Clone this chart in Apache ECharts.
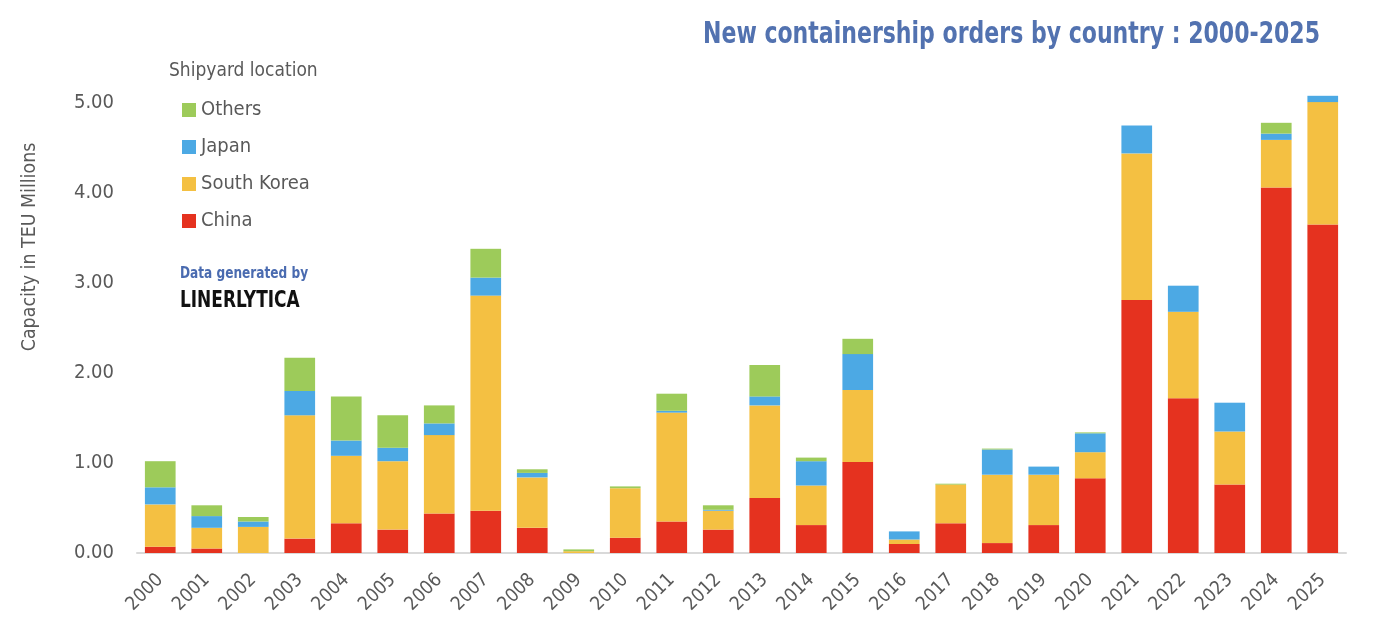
<!DOCTYPE html>
<html>
<head>
<meta charset="utf-8">
<script src="https://cdn.jsdelivr.net/npm/echarts@6/dist/echarts.min.js"></script>
<style>
html,body{margin:0;padding:0;background:#fff;}
#chart{width:1374px;height:642px;}
</style>
</head>
<body>
<div id="chart"></div>
<script>
const years = ['2000','2001','2002','2003','2004','2005','2006','2007','2008','2009','2010','2011','2012','2013','2014','2015','2016','2017','2018','2019','2020','2021','2022','2023','2024','2025'];
const china      = [0.07,0.05,0.00,0.16,0.33,0.26,0.44,0.47,0.28,0.00,0.17,0.35,0.26,0.61,0.31,1.01,0.10,0.33,0.11,0.31,0.83,2.81,1.72,0.76,4.06,3.65];
const southKorea = [0.47,0.23,0.29,1.37,0.75,0.76,0.87,2.39,0.56,0.02,0.55,1.21,0.21,1.03,0.44,0.80,0.05,0.43,0.76,0.56,0.29,1.63,0.96,0.59,0.53,1.36];
const japan      = [0.19,0.13,0.06,0.27,0.17,0.15,0.13,0.20,0.05,0.00,0.00,0.02,0.01,0.10,0.27,0.40,0.09,0.00,0.28,0.09,0.21,0.31,0.29,0.32,0.07,0.07];
const others     = [0.29,0.12,0.05,0.37,0.49,0.36,0.20,0.32,0.04,0.02,0.02,0.19,0.05,0.35,0.04,0.17,0.00,0.01,0.01,0.00,0.01,0.00,0.00,0.00,0.12,0.00];

const FONT = "'DejaVu Sans Condensed', 'DejaVu Sans', sans-serif";
const GREY = '#595959';

const chart = echarts.init(document.getElementById('chart'), null, {renderer:'canvas'});
function mk(name, data, color){
  return {name, type:'bar', stack:'total', data, barWidth:'66%', itemStyle:{color}, emphasis:{disabled:true}};
}
chart.setOption({
  animation:false,
  backgroundColor:'#ffffff',
  legend:{
    orient:'vertical', left:177, top:95,
    data:['Others','Japan','South Korea','China'],
    icon:'rect', itemWidth:14, itemHeight:14, itemGap:17,
    textStyle:{fontFamily:FONT, fontSize:20, color:GREY}
  },
  graphic:[
    {type:'text', x:1320, y:35, scaleX:0.79, style:{text:'New containership orders by country : 2000-2025', font:'bold 31px '+FONT, fill:'#5272B0', textAlign:'right', textVerticalAlign:'middle'}},
    {type:'text', x:169, y:71, scaleX:0.95, style:{text:'Shipyard location', font:'20px '+FONT, fill:GREY, textVerticalAlign:'middle'}},
    {type:'text', x:180, y:274, scaleX:0.9, style:{text:'Data generated by', font:'bold 15px '+FONT, fill:'#4A6BB0', textVerticalAlign:'middle'}},
    {type:'text', x:180, y:301, scaleX:0.82, style:{text:'LINERLYTICA', font:'bold 23px '+FONT, fill:'#111111', textVerticalAlign:'middle'}},
    {type:'text', x:30, y:247, rotation:Math.PI/2, scaleX:0.97, style:{text:'Capacity in TEU Millions', font:'20px '+FONT, fill:GREY, textAlign:'center', textVerticalAlign:'middle'}}
  ],
  grid:{left:137, right:28, top:58, bottom:89},
  xAxis:{
    type:'category', data:years,
    axisLine:{lineStyle:{color:'#d9d9d9', width:2}},
    axisTick:{show:false},
    axisLabel:{rotate:45, fontFamily:FONT, fontSize:19, color:GREY, margin:24, interval:0}
  },
  yAxis:{
    type:'value', min:0, max:5.5, interval:1,
    splitLine:{show:false}, axisLine:{show:false}, axisTick:{show:false},
    axisLabel:{fontFamily:FONT, fontSize:20, color:GREY, margin:23,
      formatter:v => v > 5.001 ? '' : v.toFixed(2)}
  },
  series:[
    mk('China', china, '#E5321F'),
    mk('South Korea', southKorea, '#F4C042'),
    mk('Japan', japan, '#4CA9E4'),
    mk('Others', others, '#9DCB5A')
  ]
});
</script>
</body>
</html>
